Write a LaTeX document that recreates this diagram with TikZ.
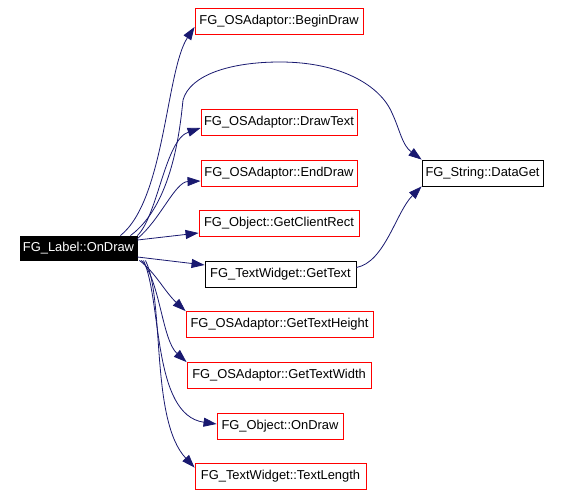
\documentclass[tikz,border=0pt]{standalone}
\usepackage{fontspec}
\setmainfont{Liberation Sans}
\usetikzlibrary{arrows.meta}
\definecolor{edgeblue}{HTML}{191970}
\tikzset{
  fn/.style={draw=red, line width=0.9pt, fill=white, minimum height=26pt, inner sep=0pt, font=\fontsize{12.9}{14}\selectfont},
  fnblack/.style={fn, draw=black},
  cur/.style={fn, draw=black, fill=black, text=white},
  call/.style={draw=edgeblue, line width=0.8pt, -{Triangle[length=13pt,width=9pt,fill=edgeblue]}},
}
\begin{document}
\begin{tikzpicture}[x=1pt,y=-1pt]
\useasboundingbox (0,0) rectangle (561,497);
\fill[white] (0,0) rectangle (561,497);
\node[cur, minimum width=117pt, minimum height=24pt] (od) at (78.5,248) {FG\_Label::OnDraw};
\node[fn, minimum width=168pt] (bd) at (279,21) {FG\_OSAdaptor::BeginDraw};
\node[fn, minimum width=156pt] (dt) at (279,122) {FG\_OSAdaptor::DrawText};
\node[fn, minimum width=156pt] (ed) at (279,173) {FG\_OSAdaptor::EndDraw};
\node[fn, minimum width=160pt] (gcr) at (279,223) {FG\_Object::GetClientRect};
\node[fnblack, minimum width=151pt] (gt) at (280.5,274.5) {FG\_TextWidget::GetText};
\node[fn, minimum width=187pt] (gth) at (279.5,324.5) {FG\_OSAdaptor::GetTextHeight};
\node[fn, minimum width=184pt] (gtw) at (279,375.5) {FG\_OSAdaptor::GetTextWidth};
\node[fn, minimum width=126pt] (ood) at (280,426) {FG\_Object::OnDraw};
\node[fn, minimum width=171pt] (tl) at (280.5,476) {FG\_TextWidget::TextLength};
\node[fnblack, minimum width=121pt] (dg) at (482.5,173) {FG\_String::DataGet};

\draw[call] (od.north east) ++(-17,0) .. controls (165,200) and (166,70) .. ([yshift=-6]bd.west);
\draw[call] (od.north east) ++(-7,0) .. controls (172,205) and (180,130) .. (183,100)
  .. controls (190,75) and (230,62) .. (280,62)
  .. controls (340,62) and (380,85) .. (392,113)
  .. controls (400,130) and (402,145) .. (dg.north west);
\draw[call] (od.north east) .. controls (158,215) and (165,140) .. ([yshift=-6]dt.west);
\draw[call] (od.north east) ++(0,3) .. controls (160,220) and (175,182) .. ([yshift=-8]ed.west);
\draw[call] ([yshift=8]od.east) -- ([yshift=-10]gcr.west);
\draw[call] ([yshift=-9]od.east) -- ([yshift=9.5]gt.west);
\draw[call] (gt.east) ++(0,-7) .. controls (385,262) and (396,212) .. (dg.south west);
\draw[call] (od.south east) ++(2,0) .. controls (155,272) and (165,292) .. (gth.north west);
\draw[call] (od.south east) ++(4,0) .. controls (160,280) and (162,340) .. (gtw.north west);
\draw[call] (od.south east) ++(6,0) .. controls (162,300) and (152,415) .. ([yshift=2]ood.west);
\draw[call] (od.south east) ++(8,0) .. controls (165,300) and (150,420) .. ([yshift=-5]tl.north west);
\end{tikzpicture}
\end{document}
